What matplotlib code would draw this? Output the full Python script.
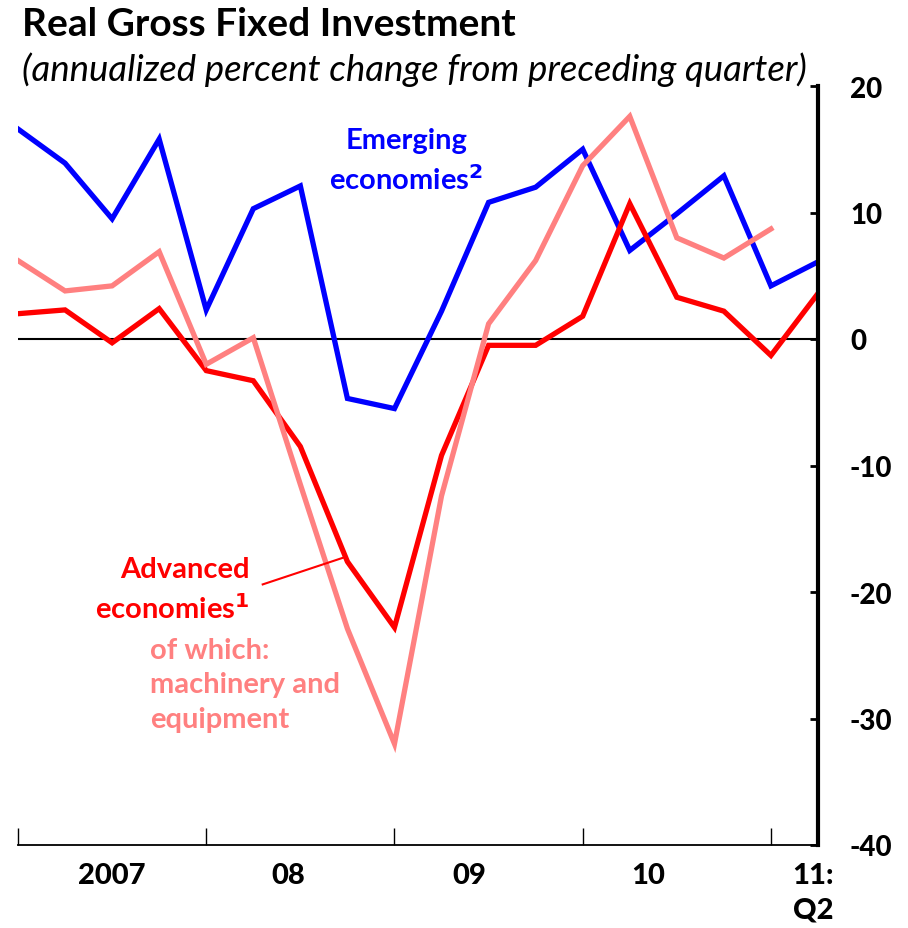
import matplotlib.pyplot as plt
import numpy as np

plt.rcParams['font.family'] = ['Lato', 'DejaVu Sans']
plt.rcParams['axes.unicode_minus'] = False

# quarters 2007Q1 .. 2011Q2
quarters = np.arange(18)
emerging = [16.6, 13.9, 9.5, 15.8, 2.3, 10.3, 12.1, -4.7, -5.5, 2.2,
            10.8, 12.0, 15.0, 7.0, 9.9, 12.9, 4.2, 6.1]
advanced = [2.0, 2.3, -0.3, 2.4, -2.5, -3.3, -8.5, -17.6, -22.8, -9.2,
            -0.5, -0.5, 1.8, 10.7, 3.3, 2.2, -1.3, 3.6]
machinery = [6.2, 3.8, 4.2, 6.9, -2.0, 0.1, -11.5, -22.9, -32.0, -12.4,
             1.2, 6.2, 13.7, 17.6, 8.0, 6.4, 8.7]

y_ticks = [-40, -30, -20, -10, 0, 10, 20]
year_ticks = [0, 4, 8, 12, 16]
year_label_pos = [2.0, 5.75, 9.6, 13.4, 16.9]
year_labels = ['2007', '08', '09', '10', '11:\nQ2']

fig = plt.figure(figsize=(9.08, 9.29), dpi=100)
ax = fig.add_axes([18/908, 1 - 846/929, 800/908, (846-87)/929])

ax.plot(quarters, emerging, color='#0000FF', lw=3.8, solid_joinstyle='miter')
ax.plot(quarters, advanced, color='#FF0000', lw=3.8, solid_joinstyle='miter')
ax.plot(quarters[:len(machinery)], machinery, color='#FF8080', lw=3.8,
        solid_joinstyle='miter')
ax.axhline(0, color='black', lw=1.5, zorder=1)

ax.set_xlim(0, 17)
ax.set_ylim(-40, 20)

for s in ['left', 'top']:
    ax.spines[s].set_visible(False)
ax.spines['right'].set_linewidth(3)
ax.spines['bottom'].set_linewidth(1.3)

ax.yaxis.tick_right()
ax.set_yticks(y_ticks)
ax.set_yticklabels([str(v) for v in y_ticks])
ax.tick_params(axis='y', direction='in', length=6, width=2, pad=23,
               labelsize=20)
for t in ax.yaxis.get_major_ticks():
    t.label2.set_fontweight('black')

ax.set_xticks(year_ticks)
ax.set_xticklabels([])
ax.tick_params(axis='x', which='major', direction='in', length=12, width=1)
ax.set_xticks(year_label_pos, minor=True)
ax.set_xticklabels(year_labels, minor=True, fontsize=21,
                   linespacing=1.4, va='top')
ax.tick_params(axis='x', which='minor', length=0, pad=12)
for t in ax.xaxis.get_minor_ticks():
    t.label1.set_fontweight('black')

fig.text(22/908, 1 - 24/929, 'Real Gross Fixed Investment', fontsize=28,
         fontweight='bold', va='center', ha='left')
fig.text(22/908, 1 - 70/929, '(annualized percent change from preceding quarter)',
         fontsize=26.4, style='italic', va='center', ha='left')

ax.text(8.25, 14.1, 'Emerging\neconomies$^{\\mathbf{2}}$', color='#0000FF',
        fontsize=21, fontweight='bold', ha='center', va='center',
        linespacing=1.42)
ax.text(4.93, -19.8, 'Advanced\neconomies$^{\\mathbf{1}}$', color='#FF0000',
        fontsize=21, fontweight='bold', ha='right', va='center',
        linespacing=1.42)
ax.plot([5.2, 6.9], [-19.4, -17.3], color='#FF0000', lw=1.5)
ax.text(2.8, -27.3, 'of which:\nmachinery and\nequipment', color='#FF8080',
        fontsize=21, fontweight='bold', ha='left', va='center',
        linespacing=1.42)

fig.savefig('out.png', dpi=100)
